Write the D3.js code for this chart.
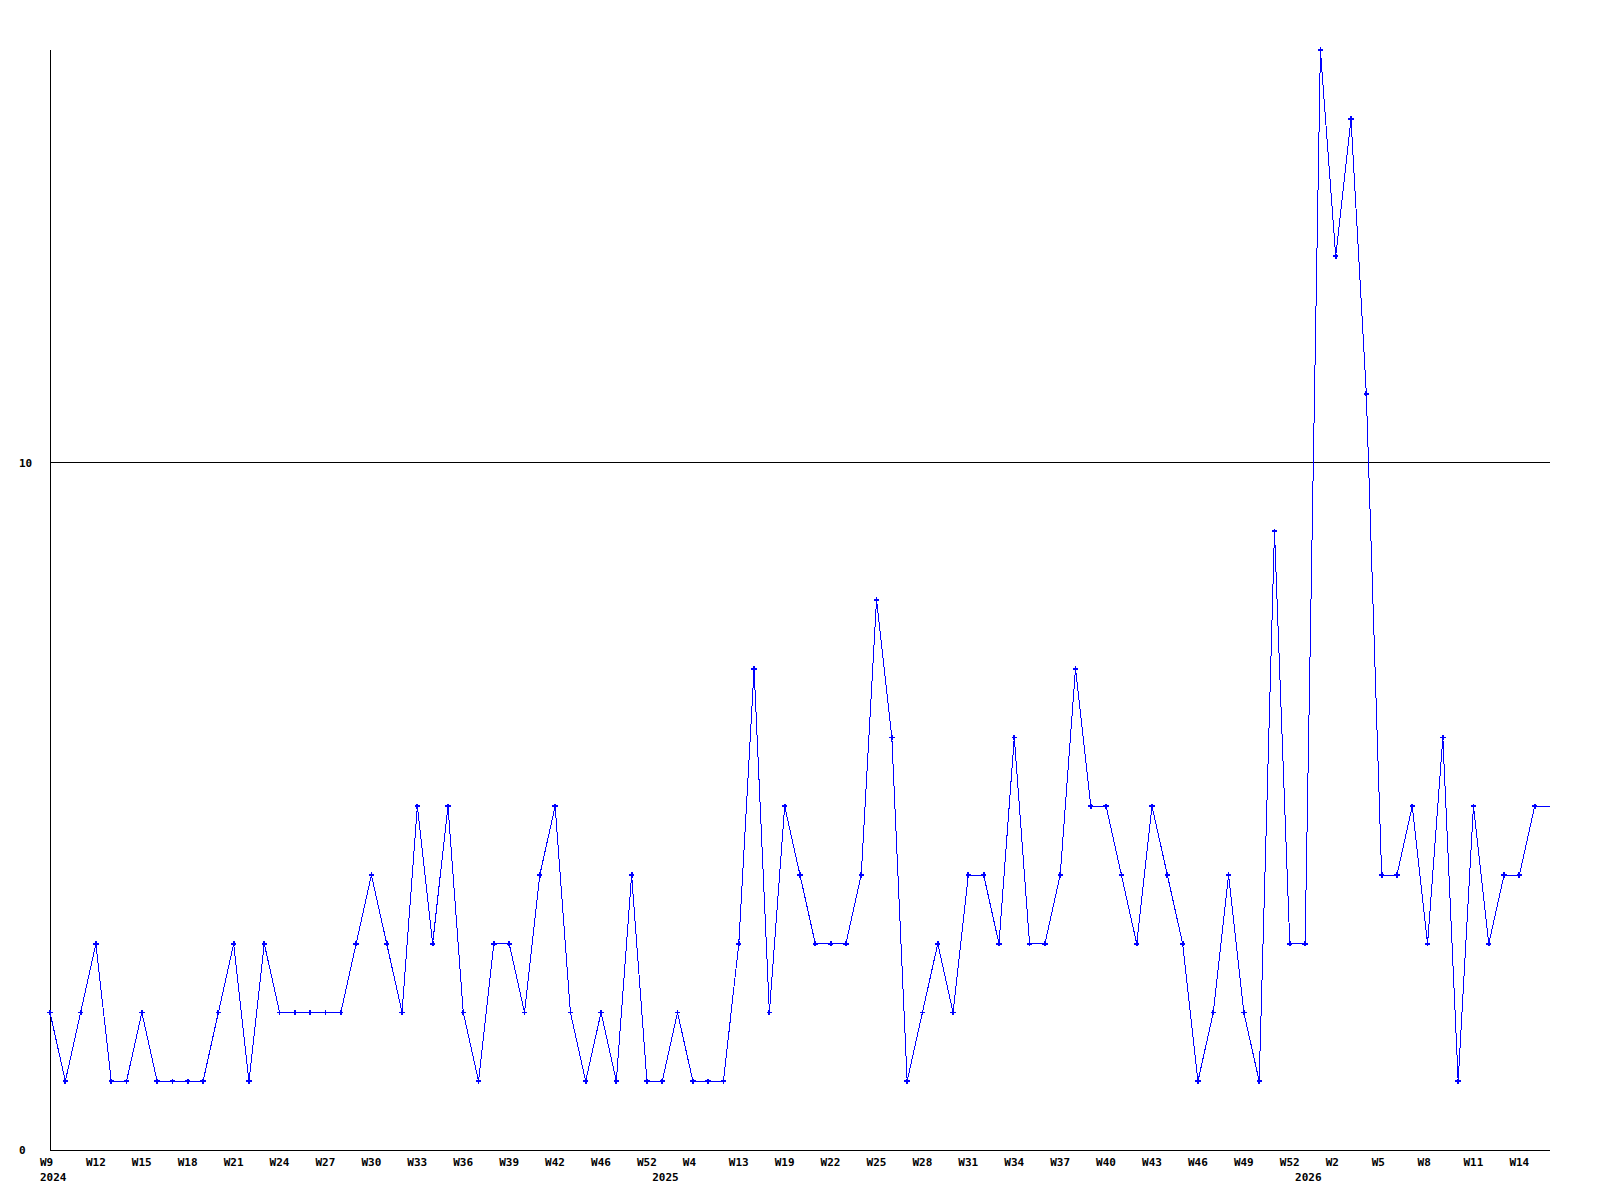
<!DOCTYPE html>
<html>
<head>
<meta charset="utf-8">
<script src="https://cdn.jsdelivr.net/npm/d3@7"></script>
<style>
  body { margin: 0; background: #fff; }
  text { font-family: "DejaVu Sans Mono", monospace; font-size: 11px; font-weight: bold; fill: #000; }
</style>
</head>
<body>
<svg></svg>
<script>
// weekly counts, one per point
const counts = [2,1,2,3,1,1,2,1,1,1, 1,2,3,1,3,2,2,2,2,2, 3,4,3,2,5,3,5,2,1,3,
  3,2,4,5,2,1,2,1,4,1, 1,2,1,1,1,3,7,2,5,4, 3,3,3,4,8,6,1,2,3,2,
  4,4,3,6,3,3,4,7,5,5, 4,3,5,4,3,1,2,4,2,1, 9,3,3,16,13,15,11,4,4,5,
  3,6,1,5,3,4,4,5];

// every third point gets a week label
const weekLabels = ['W9','W12','W15','W18','W21','W24','W27','W30','W33','W36','W39',
  'W42','W46','W52','W4','W13','W19','W22','W25','W28','W31','W34','W37',
  'W40','W43','W46','W49','W52','W2','W5','W8','W11','W14'];
const years = ['2024', '2025', '2026'];
const yearStart = [0, 40, 82];
const yTicks = [0, 10];

const width = 1600, height = 1200;
const plotLeft = 50, plotRight = 1550, plotTop = 50, plotBottom = 1150;

const svg = d3.select('svg')
    .attr('width', width)
    .attr('height', height);

const n = counts.length;
const x = d3.scaleLinear().domain([0, n]).range([plotLeft, plotRight]);
const y = d3.scaleLinear().domain([0, d3.max(counts)]).range([plotBottom, plotTop]);

// grid line at 10
svg.selectAll('.grid')
    .data(yTicks.filter(d => d > 0))
    .enter().append('line')
    .attr('x1', plotLeft).attr('x2', plotRight)
    .attr('y1', d => Math.floor(y(d)) + 0.5).attr('y2', d => Math.floor(y(d)) + 0.5)
    .attr('stroke', '#000')
    .attr('stroke-width', 1);

// axes
svg.append('line')
    .attr('x1', plotLeft + 0.5).attr('x2', plotLeft + 0.5)
    .attr('y1', plotTop).attr('y2', plotBottom + 1)
    .attr('stroke', '#000');
svg.append('line')
    .attr('x1', plotLeft).attr('x2', plotRight)
    .attr('y1', plotBottom + 0.5).attr('y2', plotBottom + 0.5)
    .attr('stroke', '#000');

svg.selectAll('.ylab')
    .data(yTicks)
    .enter().append('text')
    .attr('x', 19)
    .attr('y', d => y(d) + 4)
    .text(d => d);

// line, carried on to the right edge at the last value
const pts = counts.map((d, i) => [x(i), y(d)]);
pts.push([x(n), y(counts[n - 1])]);

svg.append('path')
    .attr('d', d3.line()(pts))
    .attr('fill', 'none')
    .attr('stroke', '#0000ff')
    .attr('stroke-width', 1)
    .style('shape-rendering', 'crispEdges');

svg.selectAll('.dot')
    .data(counts)
    .enter().append('path')
    .attr('transform', (d, i) => `translate(${x(i)},${y(d)})`)
    .attr('d', d3.symbol(d3.symbolCross).size(16))
    .attr('fill', '#0000ff')
    .style('shape-rendering', 'crispEdges');

// x labels
svg.selectAll('.wlab')
    .data(weekLabels)
    .enter().append('text')
    .attr('x', (d, i) => x(i * 3) - 10)
    .attr('y', 1166)
    .text(d => d);

svg.selectAll('.yearlab')
    .data(years)
    .enter().append('text')
    .attr('x', (d, i) => x(yearStart[i]) - 10)
    .attr('y', 1181)
    .text(d => d);
</script>
</body>
</html>
